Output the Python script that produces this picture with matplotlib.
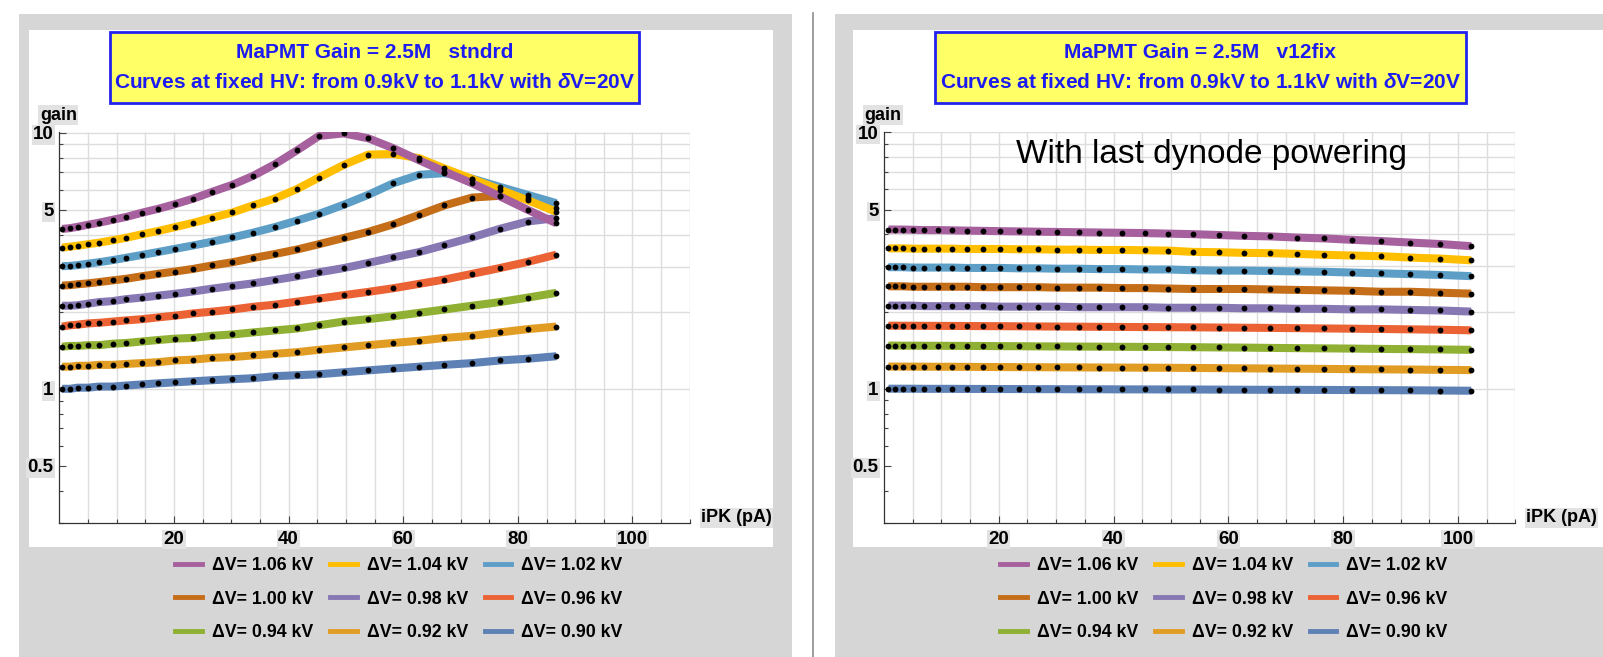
import matplotlib
matplotlib.use("Agg")
import matplotlib.pyplot as plt
from matplotlib.patches import Rectangle
from matplotlib.lines import Line2D
from matplotlib.ticker import NullFormatter
from matplotlib import font_manager

W, H = 1603, 657

installed = {f.name for f in font_manager.fontManager.ttflist}
NARROW = "Liberation Sans Narrow" if "Liberation Sans Narrow" in installed else "Liberation Sans"
plt.rcParams["font.family"] = [NARROW, "DejaVu Sans"]
plt.rcParams["mathtext.fontset"] = "custom"
plt.rcParams["mathtext.it"] = f"{NARROW}:italic:bold"
plt.rcParams["mathtext.rm"] = f"{NARROW}:bold"

# ---- data -------------------------------------------------------------
volts = [0.90, 0.92, 0.94, 0.96, 0.98, 1.00, 1.02, 1.04, 1.06]
colors = ["#5e81b5", "#e19c24", "#8fb032", "#eb6235", "#8778b3",
          "#c56e1a", "#5d9ec7", "#ffbf00", "#a5609d"]

# standard divider (left panel)
x_std = [0.5, 1.9, 3.2, 5.0, 6.9, 9.3, 11.7, 14.4, 17.2, 20.2, 23.4, 26.6, 30.2,
         33.8, 37.6, 41.5, 45.3, 49.6, 53.9, 58.3, 62.8, 67.2, 72.0, 76.8, 81.7, 86.7]
std_090 = [1.00, 1.00, 1.01, 1.01, 1.02, 1.02, 1.03, 1.04, 1.05, 1.06, 1.07, 1.08, 1.09,
           1.10, 1.12, 1.13, 1.14, 1.16, 1.18, 1.20, 1.22, 1.24, 1.26, 1.29, 1.31, 1.34]
std_092 = [1.22, 1.22, 1.23, 1.23, 1.24, 1.24, 1.25, 1.26, 1.27, 1.29, 1.30, 1.32, 1.33,
           1.35, 1.37, 1.39, 1.42, 1.45, 1.48, 1.51, 1.54, 1.58, 1.61, 1.66, 1.71, 1.75]
std_094 = [1.46, 1.47, 1.47, 1.48, 1.48, 1.50, 1.51, 1.53, 1.55, 1.57, 1.58, 1.61, 1.63,
           1.66, 1.69, 1.72, 1.77, 1.83, 1.87, 1.92, 1.98, 2.04, 2.11, 2.18, 2.27, 2.37]
std_096 = [1.75, 1.77, 1.78, 1.80, 1.81, 1.83, 1.85, 1.87, 1.90, 1.93, 1.97, 2.00, 2.04,
           2.09, 2.13, 2.19, 2.25, 2.32, 2.39, 2.47, 2.57, 2.67, 2.81, 2.96, 3.13, 3.34]
std_098 = [2.11, 2.11, 2.12, 2.15, 2.18, 2.20, 2.24, 2.27, 2.31, 2.35, 2.40, 2.46, 2.52,
           2.58, 2.66, 2.75, 2.85, 2.96, 3.10, 3.26, 3.42, 3.64, 3.90, 4.21, 4.50, 4.64]
std_100 = [2.53, 2.54, 2.56, 2.58, 2.61, 2.65, 2.69, 2.75, 2.81, 2.87, 2.94, 3.03, 3.12,
           3.24, 3.36, 3.50, 3.67, 3.88, 4.10, 4.39, 4.78, 5.20, 5.58, 5.67, 5.58, 5.08]
std_102 = [3.01, 3.02, 3.04, 3.08, 3.12, 3.18, 3.25, 3.33, 3.42, 3.52, 3.63, 3.75, 3.90,
           4.07, 4.28, 4.54, 4.82, 5.23, 5.72, 6.35, 6.85, 6.95, 6.62, 6.15, 5.72, 5.31]
std_104 = [3.56, 3.59, 3.62, 3.67, 3.72, 3.80, 3.89, 4.01, 4.13, 4.28, 4.45, 4.65, 4.88,
           5.20, 5.53, 6.03, 6.68, 7.48, 8.21, 8.26, 7.95, 7.25, 6.60, 6.00, 5.45, 4.91]
std_106 = [4.21, 4.24, 4.29, 4.37, 4.45, 4.57, 4.69, 4.87, 5.04, 5.26, 5.53, 5.87, 6.26,
           6.78, 7.53, 8.54, 9.71, 9.94, 9.51, 8.69, 7.80, 7.05, 6.35, 5.65, 5.00, 4.43]

# v12fix divider, last dynode powered (right panel)
x_fix = [0.8, 1.9, 3.3, 5.0, 7.0, 9.4, 11.8, 14.4, 17.3, 20.3, 23.5, 26.8, 30.2, 33.9, 37.5,
         41.5, 45.4, 49.5, 53.8, 58.3, 62.7, 67.3, 71.9, 76.7, 81.6, 86.6, 91.6, 96.9, 102.3]
fix_090 = [1.000, 1.000, 1.000, 1.000, 0.999, 0.999, 0.999, 0.998, 0.998, 0.997, 0.997, 0.996,
           0.996, 0.995, 0.995, 0.994, 0.994, 0.993, 0.993, 0.992, 0.991, 0.990, 0.990, 0.989,
           0.988, 0.987, 0.986, 0.984, 0.982]
fix_092 = [1.220, 1.220, 1.220, 1.219, 1.219, 1.218, 1.218, 1.217, 1.216, 1.215, 1.214, 1.213,
           1.212, 1.211, 1.210, 1.209, 1.208, 1.207, 1.205, 1.203, 1.201, 1.199, 1.197, 1.195,
           1.192, 1.190, 1.188, 1.185, 1.182]
fix_094 = [1.473, 1.473, 1.472, 1.472, 1.471, 1.471, 1.470, 1.469, 1.468, 1.466, 1.465, 1.463,
           1.462, 1.460, 1.459, 1.457, 1.456, 1.454, 1.452, 1.449, 1.447, 1.443, 1.440, 1.437,
           1.434, 1.430, 1.427, 1.423, 1.418]
fix_096 = [1.762, 1.762, 1.761, 1.761, 1.760, 1.759, 1.758, 1.757, 1.755, 1.754, 1.752, 1.750,
           1.748, 1.746, 1.744, 1.742, 1.740, 1.738, 1.736, 1.733, 1.730, 1.727, 1.723, 1.719,
           1.715, 1.710, 1.705, 1.699, 1.690]
fix_098 = [2.11, 2.11, 2.11, 2.11, 2.10, 2.10, 2.10, 2.10, 2.10, 2.09, 2.09, 2.09, 2.09, 2.08, 2.08,
           2.08, 2.08, 2.07, 2.07, 2.07, 2.06, 2.06, 2.05, 2.05, 2.04, 2.04, 2.03, 2.02, 2.00]
fix_100 = [2.51, 2.51, 2.51, 2.50, 2.50, 2.50, 2.50, 2.50, 2.49, 2.49, 2.49, 2.49, 2.48, 2.48, 2.48,
           2.47, 2.47, 2.46, 2.45, 2.45, 2.45, 2.44, 2.43, 2.42, 2.41, 2.39, 2.39, 2.37, 2.35]
fix_102 = [2.98, 2.98, 2.98, 2.97, 2.97, 2.97, 2.97, 2.96, 2.96, 2.96, 2.95, 2.95, 2.94, 2.94, 2.93,
           2.93, 2.92, 2.92, 2.90, 2.89, 2.89, 2.88, 2.87, 2.86, 2.84, 2.82, 2.80, 2.78, 2.75]
fix_104 = [3.53, 3.53, 3.53, 3.52, 3.52, 3.52, 3.52, 3.51, 3.51, 3.51, 3.50, 3.50, 3.49, 3.49, 3.48,
           3.48, 3.47, 3.46, 3.42, 3.41, 3.39, 3.38, 3.36, 3.33, 3.31, 3.29, 3.25, 3.22, 3.17]
fix_106 = [4.18, 4.18, 4.18, 4.17, 4.16, 4.16, 4.15, 4.14, 4.13, 4.12, 4.11, 4.10, 4.09, 4.08, 4.07,
           4.06, 4.05, 4.03, 4.01, 3.98, 3.95, 3.93, 3.89, 3.86, 3.81, 3.77, 3.72, 3.67, 3.60]

std_curves = [std_090, std_092, std_094, std_096, std_098, std_100, std_102, std_104, std_106]
fix_curves = [fix_090, fix_092, fix_094, fix_096, fix_098, fix_100, fix_102, fix_104, fix_106]

x_major = [20, 40, 60, 80, 100]
x_minor = [5, 10, 15, 25, 30, 35, 45, 50, 55, 65, 70, 75, 85, 90, 95, 105, 110]
y_major = [0.5, 1, 5, 10]
y_major_lbl = ["0.5", "1", "5", "10"]
y_minor = [0.3, 0.4, 0.6, 0.7, 0.8, 0.9, 2, 3, 4, 6, 7, 8, 9]
x_grid = x_minor + x_major
y_grid = [1, 2, 3, 4, 5, 6, 7, 8, 9, 10]

LBL_BG = dict(facecolor="#e2e2e2", edgecolor="none", pad=1.0)
GRAY = "#d6d6d6"


def fx(x):
    return x / W


def fy(y):
    return 1 - y / H


def rect(l, t, r, b):
    return [l / W, 1 - b / H, (r - l) / W, (b - t) / H]


fig = plt.figure(figsize=(W / 100, H / 100), dpi=100)
fig.patch.set_facecolor("white")

# panel backgrounds
for (gl, gr), (wl, wr) in [((19, 791.7), (29, 773.3)), ((835, W + 5), (853, W + 5))]:
    fig.add_artist(Rectangle((fx(gl), 0), fx(gr - gl), fy(14), transform=fig.transFigure,
                             facecolor=GRAY, edgecolor="none", zorder=-20))
    fig.add_artist(Rectangle((fx(wl), fy(547)), fx(wr - wl), (547 - 30) / H,
                             transform=fig.transFigure, facecolor="white",
                             edgecolor="none", zorder=-19))
fig.add_artist(Line2D([fx(813.3), fx(813.3)], [0, fy(13)], transform=fig.transFigure,
                      color="#8c8c8c", lw=1.2))


def panel(ax_box, ylim, xs, curves, tag, title_box, leg_cx, ipk_x):
    ax = fig.add_axes(ax_box)
    ax.set_facecolor("none")
    ax.set_yscale("log")
    ax.set_xlim(0, 110)
    ax.set_ylim(*ylim)

    ax.vlines(x_grid, ylim[0], ylim[1], color="#dddddd", lw=1.0, zorder=0)
    ax.hlines(y_grid, 0, 110, color="#dddddd", lw=1.0, zorder=0)

    for g, c in zip(curves, colors):
        ax.plot(xs, g, color=c, lw=5.8, solid_capstyle="butt", solid_joinstyle="round", zorder=2)
    for g in curves:
        ax.plot(xs, g, "o", color="black", ms=4.2, mew=0, zorder=3)

    for s in ("top", "right"):
        ax.spines[s].set_visible(False)
    for s in ("left", "bottom"):
        ax.spines[s].set_color("#333333")
        ax.spines[s].set_linewidth(0.9)

    ax.set_xticks(x_major)
    ax.set_xticklabels([str(v) for v in x_major])
    ax.set_xticks(x_minor, minor=True)
    ax.set_yticks(y_major)
    ax.set_yticklabels(y_major_lbl)
    ax.set_yticks(y_minor, minor=True)
    ax.yaxis.set_minor_formatter(NullFormatter())
    ax.tick_params(which="both", direction="in", width=0.8, color="#444444")
    ax.tick_params(which="major", length=5)
    ax.tick_params(which="minor", length=3)
    ax.tick_params(axis="x", pad=6, labelsize=13.5)
    ax.tick_params(axis="y", pad=4, labelsize=13.5)
    for lbl in ax.get_xticklabels() + ax.get_yticklabels():
        lbl.set_fontweight("bold")
        lbl.set_bbox(LBL_BG)

    # axis labels
    x0 = ax_box[0] * W
    fig.text(fx(x0 - 1), fy(115), "gain", ha="center", va="center",
             fontsize=13, fontweight="bold", bbox=LBL_BG)
    fig.text(fx(ipk_x), fy(518), "iPK (pA)", ha="left", va="center",
             fontsize=13, fontweight="bold", bbox=LBL_BG)

    # title box
    l, t, r, b = title_box
    fig.add_artist(Rectangle((fx(l), fy(b)), fx(r - l), (b - t) / H, transform=fig.transFigure,
                             facecolor="#ffff66", edgecolor="#2222ee", lw=2.0, zorder=5))
    cx = fx((l + r) / 2)
    fig.text(cx, fy(53), f"MaPMT Gain = 2.5M   {tag}", ha="center", va="center",
             fontsize=15, fontweight="bold", color="#1c1cf0", zorder=6)
    fig.text(cx, fy(82), r"Curves at fixed HV: from 0.9kV to 1.1kV with $\delta$V=20V",
             ha="center", va="center", fontsize=15, fontweight="bold",
             color="#1c1cf0", zorder=6)

    # legend: three rows, highest HV first
    order = [8, 5, 2, 7, 4, 1, 6, 3, 0]
    handles = [Line2D([], [], color=colors[i], lw=3.5) for i in order]
    labels = [f"ΔV= {volts[i]:.2f} kV" for i in order]
    fig.legend(handles, labels, ncol=3, loc="center", bbox_to_anchor=(fx(leg_cx), fy(599)),
               frameon=False, prop=dict(size=12.8, weight="bold"), handlelength=1.5,
               handletextpad=0.55, columnspacing=0.95, labelspacing=0.93)
    return ax


ax_l = panel(rect(59.3, 131.7, 689.8, 522.7), (0.302, 10.09), x_std, std_curves, "stndrd",
             (109.7, 31.7, 639, 102.7), 399, 701)
ax_r = panel(rect(883.9, 131.7, 1515.4, 522.7), (0.305, 10.07), x_fix, fix_curves, "v12fix",
             (934.9, 31.7, 1465.6, 102.7), 1224, 1526)

fig.text(fx(1211.5), fy(155), "With last dynode powering", ha="center", va="center",
         fontsize=24, family=["Liberation Sans", "DejaVu Sans"], color="black")

fig.savefig("out.png", dpi=100)
